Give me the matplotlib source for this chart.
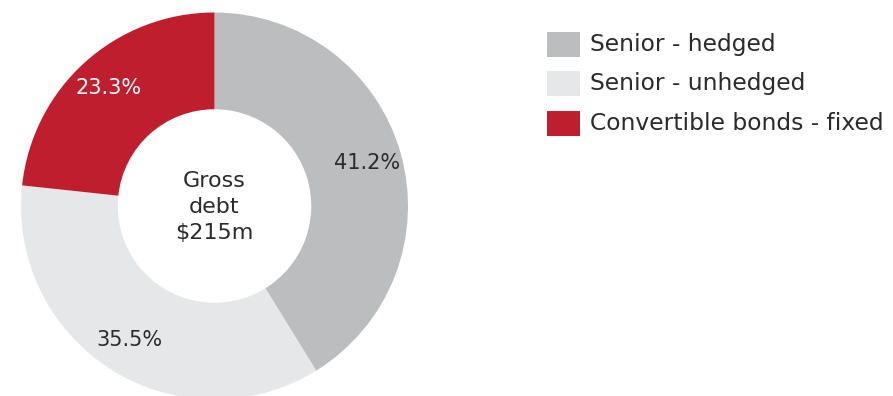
import matplotlib.pyplot as plt
from matplotlib.patches import Rectangle

labels = ['Senior - hedged', 'Senior - unhedged', 'Convertible bonds - fixed']
shares = [41.2, 35.5, 23.3]
colors = ['#bcbdbf', '#e6e7e8', '#be1e2d']
pct_colors = ['#2b2b2b', '#2b2b2b', '#ffffff']
centre_text = 'Gross\ndebt\n$215m'

plt.rcParams['font.family'] = ['DejaVu Sans']

W, H = 893, 396
fig = plt.figure(figsize=(W / 100, H / 100), dpi=100)
# axes in pixel units, y measured upward
ax = fig.add_axes([0, 0, 1, 1])

cx, cy, r = 214.5, H - 206, 193.5
wedges, _, pcts = ax.pie(shares, colors=colors, startangle=90, counterclock=False,
                         center=(cx, cy), radius=r, autopct='%.1f%%', pctdistance=0.82,
                         wedgeprops=dict(width=r * 0.5, linewidth=0),
                         textprops=dict(fontsize=15))
for t, c in zip(pcts, pct_colors):
    t.set_color(c)

ax.text(cx, cy - 1, centre_text, ha='center', va='center', fontsize=16,
        color='#2b2b2b', linespacing=1.38)

# legend drawn as swatches + labels
for i, (lab, col) in enumerate(zip(labels, colors)):
    y = H - (44 + i * 39.5)
    ax.add_patch(Rectangle((547, y - 12.5), 33, 25, color=col, lw=0))
    ax.text(590, y, lab, ha='left', va='center', fontsize=16.8, color='#2b2b2b')

ax.set_xlim(0, W)
ax.set_ylim(0, H)
ax.set_aspect('auto')
ax.axis('off')

fig.savefig('out.png', dpi=100)
